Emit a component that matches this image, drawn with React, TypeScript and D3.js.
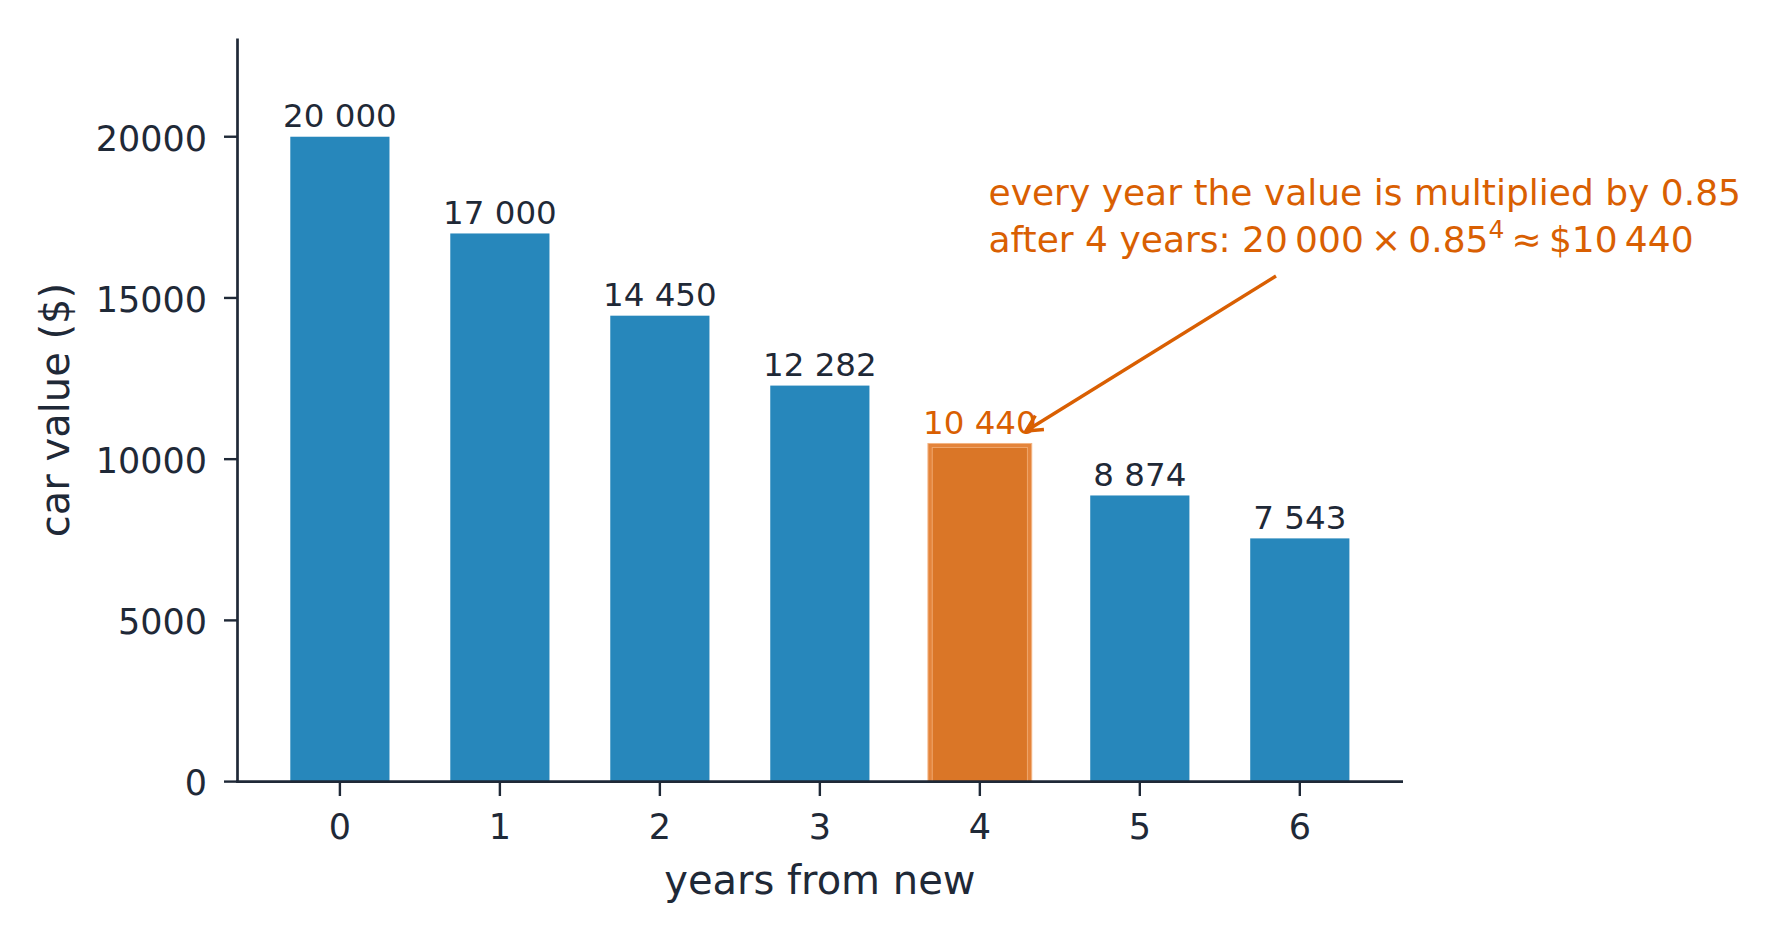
import React from "react";
import * as d3 from "d3";

const years = [0, 1, 2, 3, 4, 5, 6];
const values = [20000, 17000, 14450, 12282, 10440, 8874, 7543];
const valueLabels = ["20 000", "17 000", "14 450", "12 282", "10 440", "8 874", "7 543"];
const yTicks = [0, 5000, 10000, 15000, 20000];
const highlightIndex = 4;
const noteLine1 = "every year the value is multiplied by 0.85";
const noteLine2a = "after 4 years: 20\u2009000\u2009\u00d7\u20090.85";
const noteSup = "4";
const noteLine2b = "\u2009\u2248\u2009$10\u2009440";

const W = 1781;
const H = 941;
const DARK = "#1f2937";
const BLUE = "#2787bb";
const ORANGE = "#d95f02";
const FONT = "DejaVu Sans";

export default function App() {
  const x = d3.scaleLinear().domain([-0.64, 6.645]).range([237.5, 1403]);
  const y = d3.scaleLinear().domain([0, 23000]).range([781.6, 40]);
  const barW = x(0.62) - x(0);

  // arrow
  const ax0 = 1276, ay0 = 276, ax1 = 1026, ay1 = 431;
  const ang = Math.atan2(ay0 - ay1, ax0 - ax1);
  const hl = 18, ha = 0.47;
  const h1 = [ax1 + hl * Math.cos(ang + ha), ay1 + hl * Math.sin(ang + ha)];
  const h2 = [ax1 + hl * Math.cos(ang - ha), ay1 + hl * Math.sin(ang - ha)];

  return (
    <svg
      width={W}
      height={H}
      style={{ position: "absolute", left: 0, top: 0, background: "#fff" }}
      fontFamily={FONT}
    >
      {/* bars */}
      {years.map((yr, i) => {
        const cx = x(yr);
        const top = y(values[i]);
        const h = y(0) - top;
        if (i === highlightIndex) {
          return (
            <g key={yr}>
              <rect x={cx - barW / 2 - 2.3} y={top - 1.5} width={barW + 4.6} height={h + 1.5} fill="#e4843b" stroke="#f3b483" strokeWidth={1} />
              <rect x={cx - barW / 2 + 2} y={top + 2.5} width={barW - 4} height={h - 2.5} fill="#da7627" stroke="#efa76c" strokeWidth={1} />
            </g>
          );
        }
        return <rect key={yr} x={cx - barW / 2} y={top} width={barW} height={h} fill={BLUE} />;
      })}

      {/* value labels */}
      {years.map((yr, i) => (
        <text
          key={"l" + yr}
          x={x(yr)}
          y={y(values[i]) - (i === highlightIndex ? 10.5 : 9.3)}
          textAnchor="middle"
          fontSize={32.5}
          fill={i === highlightIndex ? ORANGE : DARK}
        >
          {valueLabels[i]}
        </text>
      ))}

      {/* spines */}
      <line x1={237.5} x2={237.5} y1={38.6} y2={782.8} stroke={DARK} strokeWidth={2.7} />
      <line x1={236.2} x2={1403} y1={781.6} y2={781.6} stroke={DARK} strokeWidth={2.8} />

      {/* y ticks */}
      {yTicks.map((t) => (
        <g key={"yt" + t}>
          <line x1={224} x2={237.5} y1={y(t)} y2={y(t)} stroke={DARK} strokeWidth={2.4} />
          <text x={207} y={y(t) + 13.8} textAnchor="end" fontSize={35} fill={DARK}>
            {t}
          </text>
        </g>
      ))}

      {/* x ticks */}
      {years.map((yr) => (
        <g key={"xt" + yr}>
          <line x1={x(yr)} x2={x(yr)} y1={781.6} y2={796} stroke={DARK} strokeWidth={2.4} />
          <text x={x(yr)} y={838.8} textAnchor="middle" fontSize={35} fill={DARK}>
            {yr}
          </text>
        </g>
      ))}

      {/* axis labels */}
      <text x={x(3)} y={893.5} textAnchor="middle" fontSize={40} fill={DARK}>
        years from new
      </text>
      <text transform="translate(68.5,410) rotate(-90)" textAnchor="middle" fontSize={40} fill={DARK}>
        car value ($)
      </text>

      {/* annotation */}
      <text x={988.5} y={205} fontSize={36} fill={ORANGE}>
        {noteLine1}
      </text>
      <text x={988.5} y={251.7} fontSize={36} fill={ORANGE}>
        {noteLine2a}
        <tspan fontSize={25} dy={-14}>{noteSup}</tspan>
        <tspan dy={14}>{noteLine2b}</tspan>
      </text>

      {/* arrow */}
      <line x1={ax0} y1={ay0} x2={ax1} y2={ay1} stroke={ORANGE} strokeWidth={3.4} />
      <polyline
        points={`${h1[0]},${h1[1]} ${ax1},${ay1} ${h2[0]},${h2[1]}`}
        fill="none"
        stroke={ORANGE}
        strokeWidth={3.4}
      />
    </svg>
  );
}
